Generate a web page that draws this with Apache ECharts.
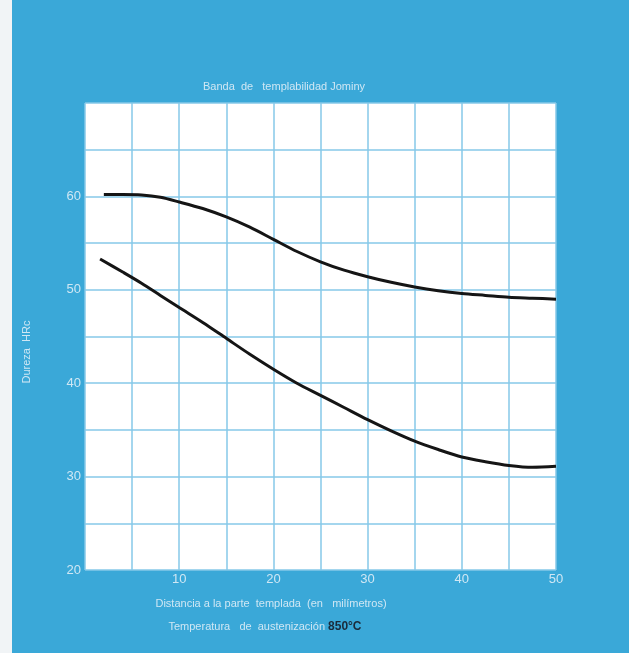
<!DOCTYPE html>
<html>
<head>
<meta charset="utf-8">
<style>
html,body{margin:0;padding:0;background:#3aa8d8;}
#chart{width:629px;height:653px;}
</style>
<script src="https://cdn.jsdelivr.net/npm/echarts@6/dist/echarts.min.js"></script>
</head>
<body>
<div id="chart"></div>
<script>
// Data (distance in mm, hardness HRc)
const upperX = [2, 4, 6, 8, 10, 12.5, 15, 17.5, 20, 22.5, 25, 27.5, 30, 32.5, 35, 37.5, 40, 42.5, 45, 47.5, 50];
const upperY = [60.2, 60.2, 60.15, 59.9, 59.4, 58.7, 57.8, 56.7, 55.4, 54.1, 53.0, 52.1, 51.4, 50.8, 50.3, 49.9, 49.6, 49.4, 49.2, 49.1, 49.0];
const lowerX = [1.6, 4, 6, 8, 10, 12.5, 15, 17.5, 20, 22.5, 25, 27.5, 30, 32.5, 35, 37.5, 40, 42.5, 45, 47.5, 50];
const lowerY = [53.3, 51.9, 50.7, 49.4, 48.1, 46.5, 44.8, 43.1, 41.5, 40.0, 38.7, 37.4, 36.1, 34.9, 33.8, 32.9, 32.1, 31.6, 31.2, 31.0, 31.1];
const xTickLabels = [10, 20, 30, 40, 50];
const yTickLabels = [20, 30, 40, 50, 60];

const titleText = 'Banda  de   templabilidad Jominy';
const yName = 'Dureza  HRc';
const xName1 = 'Distancia a la parte  templada  (en   milímetros)';
const xName2a = 'Temperatura   de  austenización ';
const xName2b = '850°C';

const pair = (xs, ys) => xs.map((x, i) => [x, ys[i]]);

const chart = echarts.init(document.getElementById('chart'), null, {renderer: 'canvas'});
const labelColor = '#cfe7f4';
const gridColor = '#86c8e8';
const font = 'Liberation Sans, Arial, sans-serif';
chart.setOption({
  backgroundColor: '#3aa8d8',
  animation: false,
  grid: {left: 85, right: 73, top: 103, bottom: 83, show: true, backgroundColor: '#ffffff', borderWidth: 0},
  xAxis: {
    type: 'value', min: 0, max: 50, interval: 5,
    axisLine: {show: false}, axisTick: {show: false},
    splitLine: {show: true, lineStyle: {color: gridColor, width: 1.5}},
    axisLabel: {
      color: labelColor, fontSize: 13, fontFamily: font, margin: 3,
      formatter: v => xTickLabels.indexOf(v) >= 0 ? String(v) : ''
    }
  },
  yAxis: {
    type: 'value', min: 20, max: 70, interval: 5,
    axisLine: {show: false}, axisTick: {show: false},
    splitLine: {show: true, lineStyle: {color: gridColor, width: 1.5}},
    axisLabel: {
      color: labelColor, fontSize: 13, fontFamily: font, margin: 4,
      formatter: v => yTickLabels.indexOf(v) >= 0 ? String(v) : ''
    }
  },
  series: [
    {type: 'line', data: pair(upperX, upperY), smooth: 0.3, showSymbol: false,
     lineStyle: {color: '#151515', width: 3}},
    {type: 'line', data: pair(lowerX, lowerY), smooth: 0.3, showSymbol: false,
     lineStyle: {color: '#151515', width: 3}}
  ],
  graphic: [
    {type: 'rect', left: 0, top: 0, shape: {x: 0, y: 0, width: 12, height: 653}, style: {fill: '#f1f4f6'}, z: 10},
    {type: 'text', x: 284, y: 87, style: {text: titleText, fill: labelColor, fontSize: 11,
      fontFamily: font, align: 'center', verticalAlign: 'middle'}},
    {type: 'text', x: 27, y: 352, rotation: Math.PI / 2, style: {text: yName, fill: labelColor, fontSize: 11,
      fontFamily: font, align: 'center', verticalAlign: 'middle'}},
    {type: 'text', x: 271, y: 604, style: {text: xName1, fill: labelColor, fontSize: 11,
      fontFamily: font, align: 'center', verticalAlign: 'middle'}},
    {type: 'text', x: 265, y: 627, style: {
      text: '{a|' + xName2a + '}{b|' + xName2b + '}',
      align: 'center', verticalAlign: 'middle',
      rich: {
        a: {fill: labelColor, fontSize: 11, fontFamily: font},
        b: {fill: '#1b2b3b', fontSize: 12, fontWeight: 'bold', fontFamily: font}
      }}}
  ]
});
</script>
</body>
</html>
